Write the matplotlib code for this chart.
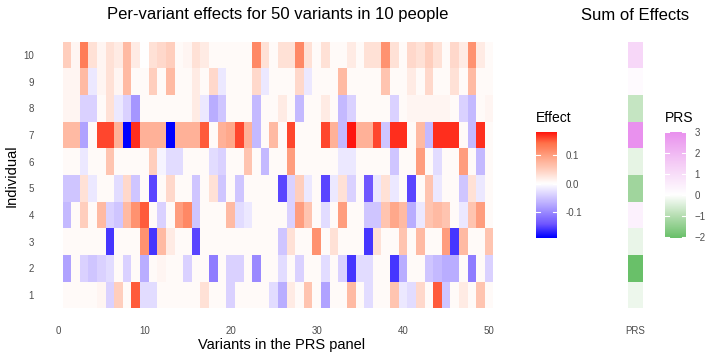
import numpy as np
import matplotlib
matplotlib.use('Agg')
import matplotlib.pyplot as plt
from matplotlib.colors import LinearSegmentedColormap, Normalize, TwoSlopeNorm

plt.rcParams['font.family'] = ['Liberation Sans', 'DejaVu Sans']

# ---------------------------------------------------------------
# donnees : effet de chaque variant (1..50) pour chaque individu
variants = np.arange(1, 51)
individuals = np.arange(1, 11)

ind1 = [0.005, 0.005, 0.005, 0.005, 0.01, -0.04, 0.05, 0.005, 0.15, -0.03, -0.03, 0.005,
        0.005, 0.005, 0.005, 0.005, 0.03, 0.005, 0.005, -0.04, 0.005, 0.005, 0.005, 0.005, -0.03,
        -0.07, 0.02, 0.005, 0.06, 0.005, -0.08, 0.005, 0.005, 0.07, 0.005, -0.03, 0.005, 0.005,
        0.06, -0.02, -0.03, 0.04, 0.005, 0.15, -0.05, 0.005, 0.02, 0.005, 0.06, 0.005]
ind2 = [-0.08, 0.005, -0.04, -0.05, -0.04, -0.03, 0.005, -0.04, 0.005, -0.07, 0.005, 0.01,
        0.005, 0.005, -0.04, 0.005, 0.005, -0.11, 0.005, -0.04, -0.04, 0.005, -0.10, 0.005, 0.005,
        -0.03, 0.005, -0.04, 0.005, 0.005, -0.03, 0.005, -0.04, -0.16, -0.03, -0.03, 0.005, 0.005,
        -0.16, -0.07, 0.005, 0.005, -0.05, -0.06, -0.07, -0.07, 0.005, -0.11, 0.005, -0.04]
ind3 = [0.005, 0.005, 0.005, 0.005, 0.005, -0.16, 0.005, 0.005, 0.005, 0.11, -0.16, 0.07,
        0.02, 0.005, 0.005, -0.15, 0.005, 0.005, 0.005, 0.005, 0.005, 0.005, 0.005, 0.005, 0.005,
        -0.05, 0.03, 0.005, 0.005, 0.11, 0.005, 0.03, 0.005, 0.005, 0.005, -0.16, 0.03, 0.005,
        0.005, 0.06, 0.005, 0.07, 0.005, 0.005, 0.10, -0.16, 0.07, 0.005, 0.005, 0.06]
ind4 = [-0.06, 0.005, 0.05, 0.005, 0.07, -0.04, -0.05, 0.07, 0.11, 0.15, 0.005, -0.04,
        0.005, 0.10, 0.12, -0.05, 0.005, 0.005, 0.005, 0.07, -0.03, -0.02, 0.005, 0.005, 0.005,
        0.005, -0.04, 0.10, 0.06, 0.005, -0.03, 0.005, 0.10, 0.005, 0.005, -0.05, -0.05, 0.06,
        0.09, 0.07, -0.07, -0.02, 0.06, 0.07, 0.06, 0.005, -0.02, 0.06, 0.10, 0.005]
ind5 = [-0.05, -0.05, 0.03, -0.02, 0.005, 0.005, -0.03, 0.04, -0.05, 0.005, -0.15, 0.005,
        0.04, 0.005, 0.005, -0.05, 0.005, 0.03, -0.05, 0.005, -0.05, 0.005, 0.005, 0.005, 0.005,
        -0.15, -0.04, 0.05, -0.02, 0.005, -0.15, -0.02, 0.03, -0.04, 0.005, -0.14, -0.02, 0.03,
        -0.02, 0.005, -0.15, 0.005, 0.06, -0.02, 0.005, 0.005, -0.05, 0.03, -0.02, 0.005]
ind6 = [0.005, 0.005, -0.02, 0.005, 0.005, 0.06, 0.005, 0.005, 0.005, 0.005, 0.05, -0.01,
        -0.03, -0.03, 0.005, 0.005, 0.005, -0.03, -0.04, 0.005, 0.005, 0.06, 0.005, -0.06, 0.005,
        0.005, 0.10, 0.005, 0.005, 0.005, 0.005, 0.005, -0.02, -0.02, 0.005, 0.005, 0.005, 0.005,
        -0.05, 0.005, 0.005, 0.10, 0.005, -0.03, 0.005, 0.005, 0.10, 0.005, -0.06, 0.005]
ind7 = [0.07, 0.07, -0.08, 0.005, 0.16, 0.16, 0.08, -0.19, 0.17, 0.08, 0.08, 0.08,
        -0.19, 0.08, 0.08, 0.08, 0.15, 0.005, 0.08, 0.09, 0.16, 0.08, -0.06, 0.005, 0.07,
        0.005, 0.16, 0.005, 0.005, 0.005, 0.16, 0.08, -0.06, 0.18, 0.08, 0.08, 0.16, -0.05,
        0.17, 0.17, 0.005, 0.07, -0.06, 0.17, 0.17, 0.17, 0.005, -0.06, 0.17, 0.005]
ind8 = [0.01, 0.01, -0.04, -0.04, 0.005, 0.03, -0.02, -0.04, -0.09, 0.005, 0.005, 0.005,
        0.005, 0.005, 0.005, 0.02, -0.02, -0.07, -0.05, 0.005, 0.005, 0.005, -0.06, 0.005, 0.005,
        0.02, 0.005, -0.06, 0.005, 0.005, 0.02, 0.005, -0.06, -0.04, 0.005, 0.005, 0.005, 0.005,
        -0.04, 0.005, 0.01, 0.01, 0.01, 0.01, 0.01, 0.005, -0.04, -0.06, 0.005, 0.01]
ind9 = [0.01, 0.01, 0.07, -0.02, 0.01, 0.03, 0.01, 0.07, 0.005, 0.005, 0.05, 0.005,
        0.07, 0.005, 0.005, 0.02, 0.005, 0.04, -0.02, 0.005, 0.005, 0.005, 0.04, -0.02, 0.005,
        0.005, 0.005, 0.04, -0.02, 0.005, 0.005, 0.005, 0.07, 0.005, 0.005, 0.005, 0.005, 0.06,
        0.005, 0.005, 0.02, 0.005, 0.04, 0.005, 0.005, 0.03, 0.005, 0.07, 0.005, 0.005]
ind10 = [0.05, 0.01, 0.13, 0.03, 0.01, 0.03, 0.02, 0.07, 0.02, 0.0, 0.03, 0.04,
         0.05, 0.005, 0.01, 0.03, 0.02, 0.005, 0.005, 0.005, 0.005, 0.005, 0.12, 0.03, 0.005,
         0.03, 0.03, 0.12, 0.03, 0.005, 0.03, 0.005, 0.005, 0.02, 0.005, 0.03, 0.03, 0.11,
         0.03, 0.005, 0.04, 0.03, 0.05, 0.03, 0.005, 0.04, 0.02, 0.11, 0.02, 0.005]

# somme des effets (PRS) pour les individus 1..10
prs = [-0.25, -2.06, -0.3, 0.4, -1.3, -0.35, 3.0, -0.8, 0.15, 1.2]

effects = np.array([ind1, ind2, ind3, ind4, ind5, ind6, ind7, ind8, ind9, ind10])
prs = np.array(prs)

# ---------------------------------------------------------------
# echelles de couleurs (facon scale_fill_gradient2)
effect_cmap = LinearSegmentedColormap.from_list('effect', [
    (0.0, '#0000FF'), (0.125, '#6E55FF'), (0.25, '#A090FF'), (0.375, '#D2C8FF'),
    (0.5, '#FFFFFF'), (0.625, '#FFD0C0'), (0.75, '#FFA385'), (0.875, '#FF7048'),
    (1.0, '#FF0000')])
effect_norm = Normalize(-0.19, 0.19)

prs_cmap = LinearSegmentedColormap.from_list('prs', [
    (0.0, '#69C069'), (0.25, '#B4DDB0'), (0.5, '#FFFFFF'), (0.75, '#F5CDF6'),
    (1.0, '#E991EE')])
prs_norm = TwoSlopeNorm(vcenter=0, vmin=-2.06, vmax=3.0)

W, H = 720, 360
fig = plt.figure(figsize=(7.2, 3.6), dpi=100)
grey = '#4D4D4D'

# ---------------------------------------------------------------
# Heatmap principale
ax = fig.add_axes([41 / W, 49 / H, 474 / W, 272 / H])
ax.pcolormesh(np.arange(0.5, 51, 1), np.arange(0.5, 11, 1), effects,
              cmap=effect_cmap, norm=effect_norm)
ax.set_xlim(-2, 53)
ax.set_ylim(0.4, 10.6)
ax.set_xticks([0, 10, 20, 30, 40, 50])
ax.set_yticks(individuals)
ax.tick_params(axis='x', length=0, labelsize=7, colors=grey, pad=11)
ax.tick_params(axis='y', length=0, labelsize=7, colors=grey, pad=5)
for s in ax.spines.values():
    s.set_visible(False)

fig.text(278 / W, 1 - 15 / H, 'Per-variant effects for 50 variants in 10 people',
         fontsize=12, ha='center', va='center')
fig.text(282 / W, 1 - 345 / H, 'Variants in the PRS panel', fontsize=10.5, ha='center', va='center')
fig.text(12 / W, 1 - 176 / H, 'Individual', fontsize=10.5, rotation=90, ha='center', va='center')

# legende Effect
cax = fig.add_axes([536 / W, 122 / H, 21 / W, 106 / H])
grad = np.linspace(-0.19, 0.18, 256)
cax.imshow(grad[:, None], aspect='auto', origin='lower', extent=[0, 1, -0.19, 0.18],
           cmap=effect_cmap, norm=effect_norm)
for t in [-0.1, 0.0, 0.1]:
    cax.plot([0, 0.2], [t, t], color='white', lw=0.8)
    cax.plot([0.8, 1], [t, t], color='white', lw=0.8)
cax.set_xlim(0, 1)
cax.set_ylim(-0.19, 0.18)
cax.set_xticks([])
cax.yaxis.tick_right()
cax.set_yticks([-0.1, 0.0, 0.1])
cax.set_yticklabels(['-0.1', '0.0', '0.1'])
cax.tick_params(length=0, labelsize=7, colors=grey, pad=6)
for s in cax.spines.values():
    s.set_visible(False)
fig.text(536 / W, 1 - 118 / H, 'Effect', fontsize=10, ha='left', va='center')

# ---------------------------------------------------------------
# Colonne PRS
pax = fig.add_axes([627.5 / W, 49 / H, 15 / W, 272 / H])
pax.pcolormesh([0.5, 1.5], np.arange(0.5, 11, 1), prs[:, None],
               cmap=prs_cmap, norm=prs_norm)
pax.set_xlim(0.5, 1.5)
pax.set_ylim(0.4, 10.6)
pax.set_xticks([1])
pax.set_xticklabels(['PRS'])
pax.set_yticks([])
pax.tick_params(length=0, labelsize=7, colors=grey, pad=11)
for s in pax.spines.values():
    s.set_visible(False)
fig.text(635 / W, 1 - 15 / H, 'Sum of Effects', fontsize=12, ha='center', va='center')

# legende PRS
qax = fig.add_axes([665 / W, 122 / H, 21 / W, 106 / H])
grad2 = np.linspace(-2.06, 3.0, 256)
qax.imshow(grad2[:, None], aspect='auto', origin='lower', extent=[0, 1, -2.06, 3.0],
           cmap=prs_cmap, norm=prs_norm)
for t in [-2, -1, 0, 1, 2, 3]:
    qax.plot([0, 0.2], [t, t], color='white', lw=0.8)
    qax.plot([0.8, 1], [t, t], color='white', lw=0.8)
qax.set_xlim(0, 1)
qax.set_ylim(-2.06, 3.0)
qax.set_xticks([])
qax.yaxis.tick_right()
qax.set_yticks([-2, -1, 0, 1, 2, 3])
qax.tick_params(length=0, labelsize=7, colors=grey, pad=6)
for s in qax.spines.values():
    s.set_visible(False)
fig.text(665 / W, 1 - 118 / H, 'PRS', fontsize=10, ha='left', va='center')

fig.savefig('out.png', dpi=100)
